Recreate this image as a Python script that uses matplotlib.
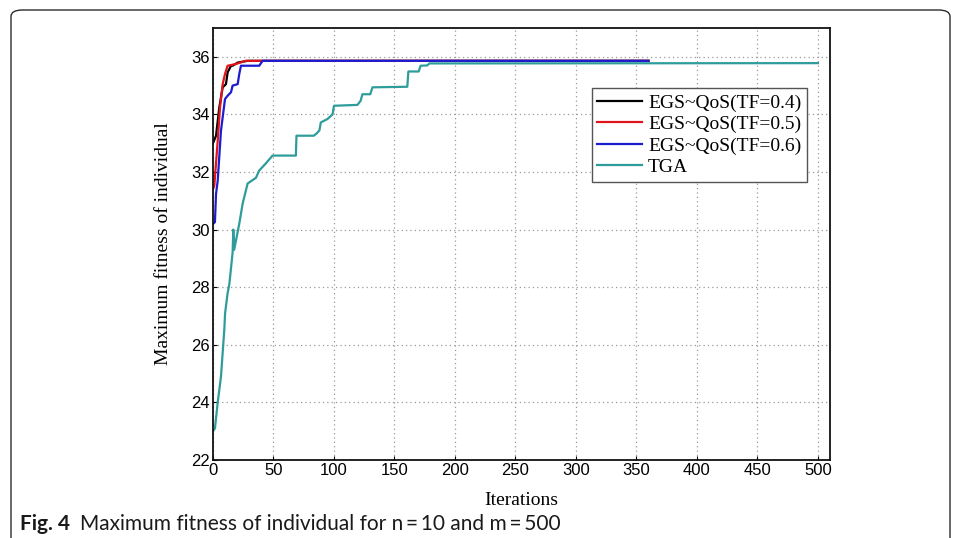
import matplotlib
matplotlib.use("Agg")
import matplotlib.pyplot as plt
from matplotlib.patches import FancyBboxPatch

# ---- data ----
labels = ["EGS~QoS(TF=0.4)", "EGS~QoS(TF=0.5)", "EGS~QoS(TF=0.6)", "TGA"]

x_tf04 = [0, 2.5, 5.2, 8, 10.7, 12.1, 14.9, 16.2, 20.4, 28.6, 360]
y_tf04 = [33.0, 33.26, 34.24, 34.94, 35.05, 35.46, 35.69, 35.69, 35.8, 35.86, 35.86]

x_tf05 = [0, 1.1, 3.9, 5.8, 8, 9.9, 12.1, 19, 27, 360]
y_tf05 = [31.4, 31.53, 33.09, 34.24, 35.05, 35.4, 35.69, 35.75, 35.86, 35.86]

x_tf06 = [0, 1.6, 2.5, 3.9, 6.6, 8, 9.9, 12.1, 14.9, 16.2, 20.4, 21.7, 23.1, 38.2, 41, 360]
y_tf06 = [30.2, 30.26, 31.24, 31.7, 33.44, 33.9, 34.53, 34.65, 34.77, 35.0, 35.05, 35.4, 35.69, 35.69, 35.86, 35.86]

x_tga = [0, 1.6, 3.9, 6.6, 9.3, 10, 12.1, 13.5, 16.2, 16.8, 17.5, 21.7, 24.5, 28.6, 35.5, 38.2,
         43.7, 49.2, 68.5, 69, 83.3, 86, 88, 89.1, 94.6, 98.8, 100, 119.4, 122, 123.5, 130, 131.8,
         160.6, 161.5, 170, 171.6, 177, 179, 500]
y_tga = [23.0, 23.1, 24.0, 24.9, 26.5, 27.1, 27.8, 28.1, 29.2, 30.0, 29.3, 30.2, 30.9, 31.6, 31.8, 32.05,
         32.3, 32.57, 32.57, 33.26, 33.26, 33.35, 33.45, 33.72, 33.84, 34.0, 34.3, 34.33, 34.47, 34.7, 34.7, 34.94,
         34.96, 35.49, 35.49, 35.69, 35.7, 35.77, 35.78]

x_ticks = [0, 50, 100, 150, 200, 250, 300, 350, 400, 450, 500]
y_ticks = [22, 24, 26, 28, 30, 32, 34, 36]

xlabel = "Iterations"
ylabel = "Maximum fitness of individual"
cap_bold = "Fig. 4"
cap_text = "Maximum fitness of individual for n\u2009=\u200910 and m\u2009=\u2009500"

# ---- figure ----
W, H = 960, 538
fig = plt.figure(figsize=(W / 100, H / 100), dpi=100)

# page frame (rounded box, open at bottom)
frame = FancyBboxPatch((11 / W, -20 / H), 939 / W, (H - 10 + 20) / H,
                       boxstyle="round,pad=0,rounding_size=0.012",
                       transform=fig.transFigure, fill=False, edgecolor="#2b2b2b",
                       linewidth=1.0, clip_on=False)
fig.patches.append(frame)

left, right, top, bottom = 213, 830, 28, 460
ax = fig.add_axes([left / W, 1 - bottom / H, (right - left) / W, (bottom - top) / H])

serif = ["Liberation Serif", "DejaVu Serif"]
sans = ["Liberation Sans", "DejaVu Sans"]
capfont = ["Lato", "DejaVu Sans"]

l_tga, = ax.plot(x_tga, y_tga, color="#2e9c9a", lw=1.6)
l04, = ax.plot(x_tf04, y_tf04, color="#000000", lw=1.6)
l05, = ax.plot(x_tf05, y_tf05, color="#e0141a", lw=1.6)
l06, = ax.plot(x_tf06, y_tf06, color="#1c1cd0", lw=1.6)

ax.set_xlim(0, 510)
ax.set_ylim(22, 37)
ax.set_xticks(x_ticks)
ax.set_yticks(y_ticks)
ax.tick_params(direction="in", length=3, width=0.8, labelsize=12, pad=2)
for lab in ax.get_xticklabels() + ax.get_yticklabels():
    lab.set_family(sans)
ax.grid(True, color="#9a9a9a", linestyle=(0, (1, 2.5)), linewidth=0.9)
for s in ax.spines.values():
    s.set_linewidth(1.3)
    s.set_color("#111111")

ax.set_xlabel(xlabel, family=serif, fontsize=14, labelpad=10)
ax.set_ylabel(ylabel, family=serif, fontsize=14, labelpad=14)

leg = ax.legend([l04, l05, l06, l_tga], labels, loc="upper right",
                bbox_to_anchor=((807 - left) / (right - left), (bottom - 88) / (bottom - top)),
                borderaxespad=0, prop={"family": serif, "size": 14},
                handlelength=2.3, handletextpad=0.3, labelspacing=0.2,
                fancybox=False, framealpha=1, edgecolor="#555555", borderpad=0.3)
leg.get_frame().set_linewidth(1.0)

# caption
fig.text(20 / W, 1 - 530 / H, cap_bold, family=capfont, fontweight="bold",
         fontsize=15, color="#1a1a1a", va="baseline")
fig.text(80 / W, 1 - 530 / H, cap_text, family=capfont,
         fontsize=15, color="#1a1a1a", va="baseline")

fig.savefig("out.png", dpi=100)
